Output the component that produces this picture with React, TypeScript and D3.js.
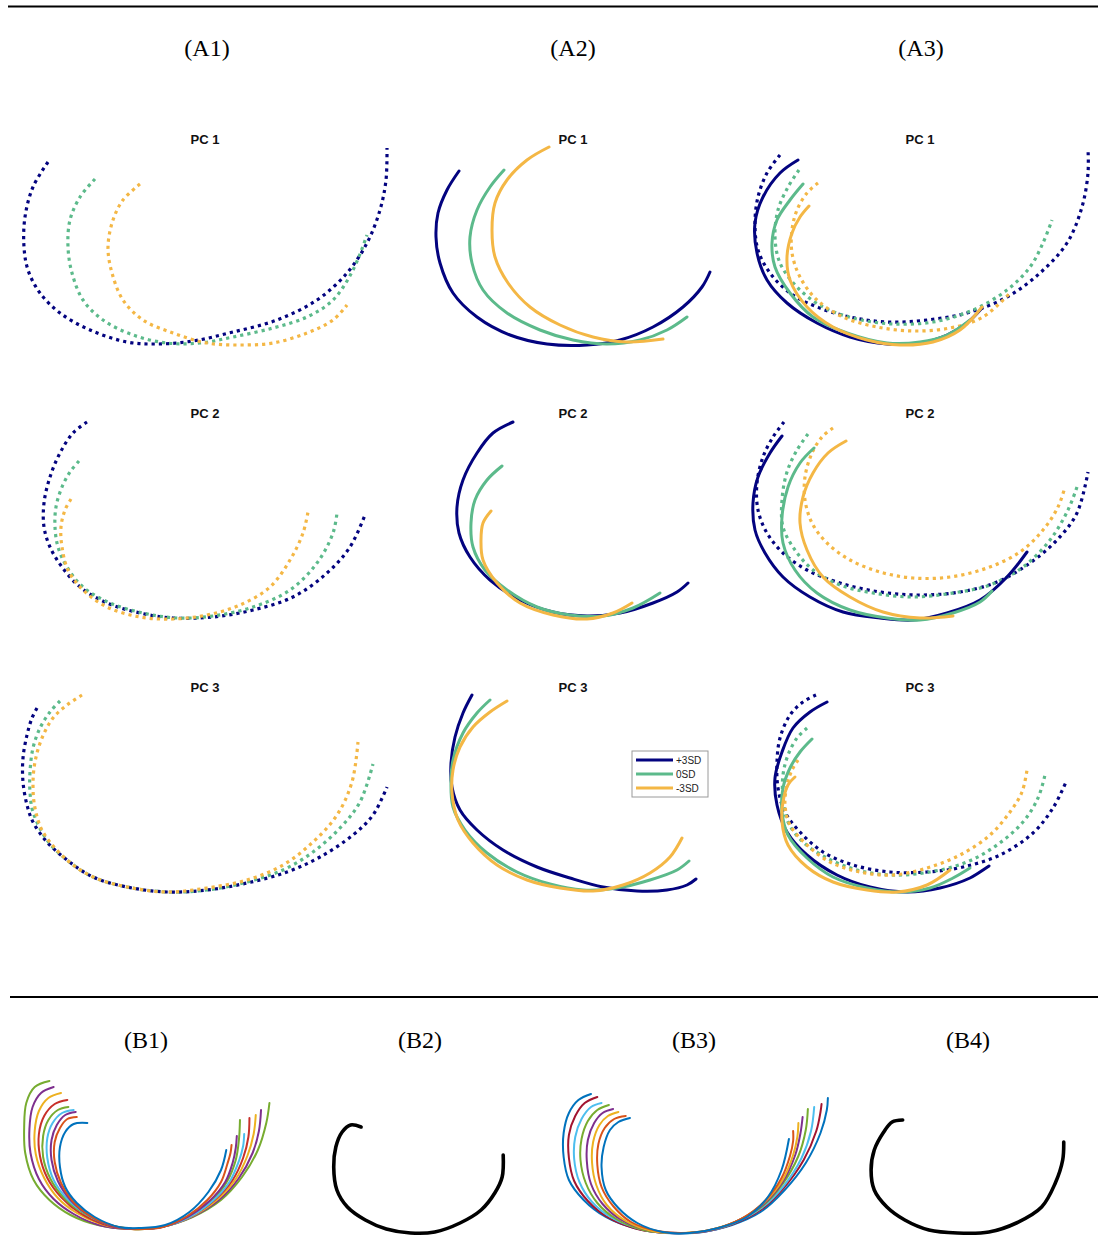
import React from "react";
import * as d3 from "d3";

type Pt = [number, number];

// ---------- labels ----------
const groupLabelsA = ["(A1)", "(A2)", "(A3)"];
const groupLabelsB = ["(B1)", "(B2)", "(B3)", "(B4)"];
const pcTitles = ["PC 1", "PC 2", "PC 3"];
const sdLabels = ["+3SD", "0SD", "-3SD"];

// ---------- (A1) dotted shapes ----------
const a1pc1Plus: Pt[] = [[3.1,19.8],[1.6,17.3],[0.8,14.3],[0.7,11.3],[1.1,9.0],[2.3,6.7],[4.3,4.7],[7.3,3.0],[11.0,1.8],[14.0,1.6],[17.6,1.9],[21.6,2.8],[26.0,4.0],[30.0,6.0],[33.0,8.7],[35.0,11.7],[36.3,15.0],[36.9,18.0],[37.0,21.2]];
const a1pc1Zero: Pt[] = [[7.8,18.1],[6.3,16.3],[5.3,14.0],[5.1,11.3],[5.5,8.7],[6.6,6.0],[8.6,4.0],[11.6,2.5],[15.0,1.7],[18.3,1.7],[21.6,2.3],[25.6,3.2],[29.0,4.3],[31.6,6.0],[33.6,9.0],[35.0,12.5]];
const a1pc1Minus: Pt[] = [[12.3,17.6],[10.6,16.0],[9.6,14.0],[9.1,11.3],[9.5,8.7],[10.6,6.0],[12.6,4.0],[15.6,2.7],[19.0,1.7],[22.3,1.5],[25.6,1.7],[29.0,2.7],[31.6,4.0],[33.0,5.5]];

const a1pc2Plus: Pt[] = [[7.0,21.2],[5.6,20.1],[4.3,18.1],[3.3,15.7],[2.7,13.1],[2.7,10.7],[3.3,8.7],[4.5,6.7],[6.3,4.7],[9.0,3.1],[12.3,2.1],[15.6,1.6],[19.6,1.7],[23.6,2.4],[27.6,3.7],[31.0,6.1],[33.3,8.7],[34.8,11.9]];
const a1pc2Zero: Pt[] = [[6.2,17.3],[5.3,16.2],[4.5,14.7],[3.9,12.7],[3.8,10.7],[4.1,8.7],[5.0,6.7],[6.6,4.7],[9.3,3.1],[12.6,2.1],[16.0,1.6],[19.6,1.8],[23.6,2.7],[27.3,4.4],[30.0,7.1],[31.6,10.1],[32.0,12.1]];
const a1pc2Minus: Pt[] = [[5.4,13.5],[4.8,12.4],[4.4,10.7],[4.5,8.7],[5.1,6.4],[6.6,4.4],[9.0,2.7],[12.3,1.7],[15.6,1.5],[19.0,1.9],[22.3,2.9],[25.3,4.7],[27.3,7.4],[28.6,10.1],[29.1,12.2]];

const a1pc3Plus: Pt[] = [[2.0,20.0],[1.5,19.0],[1.0,17.3],[0.6,15.0],[0.6,12.6],[1.0,10.3],[1.6,8.6],[3.0,6.6],[5.0,4.8],[7.6,3.1],[11.0,2.1],[15.0,1.6],[19.0,1.8],[23.0,2.5],[27.0,3.6],[30.3,5.1],[33.6,7.3],[35.6,9.3],[37.0,12.1]];
const a1pc3Zero: Pt[] = [[4.3,20.7],[3.3,19.6],[2.3,18.0],[1.6,16.0],[1.3,13.6],[1.3,11.6],[1.6,9.6],[3.0,6.8],[5.0,4.8],[7.6,3.1],[11.0,2.1],[15.0,1.6],[19.0,1.8],[23.0,2.6],[26.6,3.8],[29.6,5.6],[32.3,8.0],[34.3,10.6],[35.6,14.4]];
const a1pc3Minus: Pt[] = [[6.5,21.3],[5.0,20.3],[3.6,19.0],[2.5,17.0],[1.8,14.6],[1.6,12.3],[1.8,10.0],[2.6,7.6],[5.0,4.8],[7.6,3.1],[11.0,2.1],[15.0,1.6],[19.0,2.0],[23.0,2.8],[26.6,4.3],[29.6,6.6],[32.0,9.3],[33.5,12.6],[34.1,16.6]];

// ---------- (A2) solid shapes ----------
const a2pc1Plus: Pt[] = [[7.6,18.9],[6.4,17.0],[5.5,14.7],[5.3,12.3],[5.7,9.7],[7.0,6.7],[9.4,4.3],[12.7,2.5],[16.4,1.6],[20.4,1.5],[23.7,2.0],[27.0,3.3],[30.0,5.3],[31.9,7.3],[32.7,8.8]];
const a2pc1Zero: Pt[] = [[12.1,19.0],[10.7,17.3],[9.4,15.0],[8.7,12.3],[8.9,9.7],[10.0,7.0],[12.4,4.7],[15.7,3.0],[19.0,2.0],[22.4,1.6],[25.7,2.0],[28.4,3.0],[30.4,4.3]];
const a2pc1Minus: Pt[] = [[16.6,21.3],[14.4,20.0],[12.4,18.0],[11.2,15.7],[10.9,13.0],[11.2,10.3],[12.5,7.7],[14.7,5.3],[17.7,3.5],[21.0,2.3],[24.4,1.8],[28.0,2.1]];

const a2pc2Plus: Pt[] = [[13.0,21.2],[11.0,20.1],[9.4,18.1],[8.0,15.4],[7.4,12.7],[7.6,10.1],[8.7,7.7],[10.7,5.4],[13.7,3.4],[17.0,2.2],[20.4,1.8],[23.7,2.1],[27.0,3.1],[29.4,4.2],[30.5,5.1]];
const a2pc2Zero: Pt[] = [[11.9,16.8],[10.4,15.4],[9.2,13.4],[8.8,11.1],[9.0,8.7],[10.2,6.4],[12.4,4.4],[15.4,2.7],[18.7,1.9],[22.0,1.8],[25.0,2.6],[27.7,4.1]];
const a2pc2Minus: Pt[] = [[10.8,12.3],[10.0,11.1],[9.8,9.4],[10.0,7.4],[11.4,5.1],[13.7,3.1],[17.0,1.9],[20.4,1.5],[23.0,2.1],[24.9,3.1]];

const a2pc3Plus: Pt[] = [[8.9,21.3],[8.0,19.5],[7.2,17.1],[6.8,14.5],[6.9,12.1],[7.7,9.8],[9.4,7.8],[12.0,5.8],[15.4,4.1],[18.7,3.0],[22.0,2.1],[25.4,1.7],[28.4,1.8],[30.4,2.3],[31.3,2.9]];
const a2pc3Zero: Pt[] = [[10.7,20.8],[9.4,19.5],[8.0,17.5],[7.0,14.8],[6.8,12.8],[7.0,10.1],[8.2,7.8],[10.4,5.5],[13.4,3.6],[16.7,2.4],[20.0,1.8],[23.4,2.0],[26.7,2.8],[29.4,3.8],[30.6,4.7]];
const a2pc3Minus: Pt[] = [[12.4,20.7],[10.7,19.6],[9.0,18.1],[7.7,16.1],[7.0,13.8],[6.9,11.5],[7.5,8.8],[9.0,6.5],[11.4,4.3],[14.4,2.8],[17.7,2.0],[21.0,1.7],[24.0,2.3],[26.7,3.5],[28.7,5.1],[29.9,7.0]];

// ---------- (A3) dotted + solid shapes ----------
const a3pc1DotPlus: Pt[] = [[4.9,20.5],[3.6,18.7],[2.7,16.3],[2.4,13.7],[2.7,11.0],[3.9,8.7],[5.9,6.7],[8.6,5.3],[11.9,4.3],[15.6,3.8],[19.6,4.0],[23.6,4.7],[27.6,6.3],[30.9,8.7],[33.6,11.7],[35.1,15.3],[35.7,18.7],[35.7,21.1]];
const a3pc1DotZero: Pt[] = [[6.8,19.0],[5.7,17.3],[4.7,15.0],[4.4,12.3],[4.9,9.7],[6.6,7.3],[9.2,5.3],[12.6,4.1],[16.2,3.6],[20.2,3.8],[24.2,5.0],[27.6,7.0],[29.9,9.3],[31.2,11.7],[32.1,14.0]];
const a3pc1DotMinus: Pt[] = [[8.7,17.7],[7.6,16.7],[6.6,15.0],[6.1,13.0],[6.1,10.7],[6.9,8.3],[8.6,6.0],[11.2,4.3],[14.6,3.3],[18.2,2.9],[21.9,3.2],[25.2,4.3],[27.9,6.7]];
const a3pc1SolPlus: Pt[] = [[6.7,20.0],[4.9,18.7],[3.2,16.3],[2.4,13.7],[2.6,10.7],[3.6,8.0],[5.6,5.7],[8.6,3.7],[11.9,2.3],[15.6,1.6],[18.9,1.7],[21.6,2.5],[23.6,3.7],[25.1,5.2]];
const a3pc1SolZero: Pt[] = [[7.2,17.6],[5.9,16.0],[4.6,14.0],[4.1,11.7],[4.4,9.3],[5.9,6.7],[8.2,4.3],[11.6,2.7],[15.6,1.7],[18.9,1.8],[21.6,2.5],[23.9,4.0]];
const a3pc1SolMinus: Pt[] = [[7.8,15.4],[6.9,14.3],[6.1,12.7],[5.6,10.3],[5.9,8.0],[7.6,5.3],[10.2,3.3],[13.6,2.0],[16.9,1.5],[20.2,1.8],[22.9,3.0],[25.1,5.3]];

const a3pc2DotPlus: Pt[] = [[5.3,21.2],[4.2,19.7],[3.2,17.7],[2.6,15.1],[2.7,12.4],[3.6,10.1],[5.2,8.1],[7.6,6.4],[10.9,5.1],[14.9,4.2],[18.9,3.9],[22.9,4.2],[26.6,5.2],[29.9,7.1],[32.6,9.4],[34.6,12.1],[35.7,16.2]];
const a3pc2DotZero: Pt[] = [[7.7,20.0],[6.6,18.4],[5.6,16.2],[5.1,13.4],[5.2,10.7],[6.4,8.4],[8.2,6.4],[10.9,4.9],[14.2,4.1],[18.2,3.7],[22.2,4.1],[25.9,4.9],[29.2,6.7],[31.9,9.4],[33.7,12.4],[34.6,14.7]];
const a3pc2DotMinus: Pt[] = [[10.2,20.6],[9.1,19.7],[8.1,18.1],[7.4,15.7],[7.4,13.4],[8.1,11.1],[9.6,9.1],[11.9,7.4],[14.9,6.2],[18.2,5.6],[21.9,5.7],[25.6,6.6],[28.9,8.2],[31.2,10.4],[32.7,12.7],[33.4,14.7]];
const a3pc2SolPlus: Pt[] = [[5.1,19.8],[3.9,18.1],[2.7,15.7],[2.2,13.1],[2.4,10.4],[3.4,8.1],[5.2,5.7],[7.9,3.7],[11.2,2.2],[14.9,1.6],[18.2,1.4],[21.6,2.1],[24.9,3.4],[27.6,5.7],[29.6,8.2]];
const a3pc2SolZero: Pt[] = [[8.3,18.6],[6.9,17.1],[5.7,14.7],[5.1,11.7],[5.2,9.1],[6.4,6.4],[8.6,4.1],[11.9,2.4],[15.6,1.6],[18.9,1.4],[22.2,2.1],[24.9,3.2],[26.1,4.3]];
const a3pc2SolMinus: Pt[] = [[11.5,19.3],[9.7,18.1],[8.2,16.1],[7.2,13.7],[6.9,11.1],[7.6,8.4],[9.2,5.7],[11.9,3.7],[15.2,2.2],[18.9,1.6],[22.2,1.8]];

const a3pc3DotPlus: Pt[] = [[8.5,21.3],[7.2,20.6],[5.9,19.3],[4.9,17.0],[4.6,14.6],[4.7,12.0],[5.4,9.6],[6.9,7.6],[9.2,5.6],[12.2,4.3],[15.9,3.6],[19.6,3.6],[23.2,4.1],[26.9,5.3],[30.2,7.5],[32.2,10.0],[33.5,12.6]];
const a3pc3DotZero: Pt[] = [[7.6,18.0],[6.6,17.0],[5.7,15.3],[5.2,13.3],[5.2,11.0],[5.7,8.6],[7.2,6.6],[9.6,5.0],[12.6,3.8],[16.2,3.3],[19.9,3.6],[23.6,4.6],[26.6,6.3],[29.2,8.6],[30.7,11.0],[31.4,13.3]];
const a3pc3DotMinus: Pt[] = [[6.7,14.8],[6.1,13.8],[5.6,12.3],[5.4,10.3],[5.9,8.3],[7.6,6.3],[9.9,4.6],[12.9,3.6],[16.2,3.3],[19.6,4.0],[22.9,5.3],[25.9,7.3],[27.9,9.6],[29.1,11.6],[29.6,13.8]];
const a3pc3SolPlus: Pt[] = [[9.6,20.6],[7.9,19.6],[6.2,18.0],[5.1,15.6],[4.4,13.0],[4.6,10.3],[5.6,7.6],[7.6,5.3],[10.6,3.3],[13.9,2.1],[17.6,1.6],[20.9,2.0],[23.9,3.0],[25.8,4.2]];
const a3pc3SolZero: Pt[] = [[8.1,16.9],[6.9,15.6],[5.9,14.0],[5.2,12.0],[5.1,9.6],[5.7,7.3],[7.6,5.0],[10.2,3.1],[13.6,2.0],[16.9,1.6],[19.9,2.0],[22.2,3.0],[23.9,4.0]];
const a3pc3SolMinus: Pt[] = [[6.4,13.1],[5.7,12.3],[5.2,10.6],[5.1,8.6],[5.7,6.3],[7.6,4.1],[10.2,2.6],[13.6,1.8],[16.6,1.6],[19.6,2.3],[21.9,3.8]];

// ---------- (B1) individual shapes ----------
const b1Shapes: Pt[][] = [
  [[3.1,15.5],[1.7,14.9],[0.9,13.3],[0.7,10.9],[0.8,8.3],[1.6,5.6],[3.1,3.6],[5.1,2.1],[7.7,1.1],[10.7,0.7],[13.7,0.9],[16.7,1.9],[19.4,3.6],[21.4,5.9],[22.9,8.6],[23.7,11.3],[24.0,13.3]],
  [[3.5,14.9],[2.3,14.3],[1.5,12.9],[1.2,10.7],[1.3,8.3],[2.1,5.7],[3.5,3.7],[5.4,2.2],[7.8,1.1],[10.7,0.7],[13.7,0.9],[16.6,1.9],[19.2,3.6],[21.1,5.8],[22.4,8.3],[23.0,10.5],[23.2,12.6]],
  [[4.2,14.3],[3.0,13.8],[2.1,12.5],[1.7,10.5],[1.8,8.2],[2.6,5.8],[3.9,3.8],[5.7,2.3],[8.0,1.2],[10.8,0.7],[13.7,0.9],[16.5,1.9],[19.0,3.6],[20.8,5.7],[21.9,8.0],[22.5,10.2],[22.7,12.1]],
  [[4.8,13.6],[3.6,13.2],[2.6,12.0],[2.1,10.2],[2.2,8.0],[2.9,5.8],[4.2,3.9],[6.0,2.3],[8.2,1.2],[10.9,0.7],[13.7,0.9],[16.4,1.9],[18.8,3.6],[20.5,5.6],[21.5,7.8],[22.0,9.9],[22.1,11.8]],
  [[4.9,12.9],[3.9,12.6],[3.0,11.6],[2.5,10.0],[2.5,7.9],[3.2,5.7],[4.5,3.8],[6.3,2.3],[8.5,1.2],[11.0,0.7],[13.7,0.9],[16.3,1.9],[18.5,3.5],[20.0,5.5],[20.8,7.6],[21.1,9.6],[21.2,11.6]],
  [[5.4,12.6],[4.3,12.3],[3.4,11.3],[2.9,9.8],[2.9,7.8],[3.5,5.6],[4.8,3.7],[6.6,2.2],[8.8,1.1],[11.2,0.7],[13.8,0.9],[16.4,1.9],[18.6,3.5],[20.2,5.4],[21.1,7.5],[21.5,9.0],[21.6,10.2]],
  [[5.6,12.4],[4.6,12.1],[3.8,11.1],[3.3,9.6],[3.3,7.6],[3.9,5.5],[5.1,3.6],[6.8,2.1],[9.0,1.0],[11.3,0.7],[13.8,0.9],[16.2,1.9],[18.3,3.5],[19.8,5.4],[20.5,7.3],[20.8,8.8],[20.9,10.0]],
  [[5.7,11.9],[4.8,11.7],[4.1,10.8],[3.6,9.4],[3.6,7.4],[4.2,5.3],[5.3,3.5],[7.0,2.0],[9.2,1.0],[11.4,0.7],[13.9,0.9],[16.2,2.0],[18.1,3.6],[19.4,5.4],[20.0,7.2],[20.3,8.3],[20.4,9.1]],
  [[6.7,11.3],[5.4,11.2],[4.6,10.4],[4.1,8.9],[4.1,6.9],[4.6,4.9],[5.7,3.3],[7.4,1.9],[9.7,0.9],[11.7,0.8],[14.1,1.1],[16.4,2.4],[18.2,4.4],[19.4,6.6],[19.9,8.6]],
];

// ---------- (B2) mean shape ----------
const b2Shape: Pt[] = [[5.3,10.9],[4.3,11.1],[3.5,10.4],[2.9,8.9],[2.7,6.9],[3.0,4.6],[4.0,2.9],[5.7,1.6],[7.7,0.7],[10.0,0.3],[12.3,0.4],[14.7,1.3],[16.7,2.6],[18.0,4.3],[18.7,5.9],[18.8,8.1]];

// ---------- (B3) individual shapes ----------
const b3Shapes: Pt[][] = [
  [[2.5,14.2],[1.3,13.6],[0.4,12.3],[-0.1,10.3],[-0.1,7.9],[0.4,5.6],[1.8,3.6],[3.9,1.9],[6.6,0.8],[9.6,0.3],[12.9,0.4],[15.9,1.1],[18.6,2.4],[20.9,4.6],[22.9,7.3],[24.3,10.3],[24.9,12.6],[25.0,13.8]],
  [[3.1,13.9],[1.9,13.3],[1.0,12.0],[0.4,10.1],[0.4,7.8],[0.9,5.5],[2.2,3.5],[4.2,1.8],[6.9,0.7],[9.9,0.3],[13.0,0.4],[16.0,1.2],[18.6,2.6],[20.8,4.8],[22.7,7.6],[23.9,10.5],[24.3,12.4],[24.4,13.2]],
  [[3.5,13.3],[2.5,12.9],[1.6,11.7],[1.0,9.9],[0.9,7.7],[1.4,5.4],[2.6,3.4],[4.5,1.8],[7.2,0.7],[10.2,0.3],[13.2,0.4],[16.1,1.3],[18.7,2.8],[20.8,5.0],[22.5,7.8],[23.4,10.5],[23.7,12.9]],
  [[4.2,13.1],[3.1,12.6],[2.2,11.5],[1.6,9.7],[1.5,7.6],[2.0,5.3],[3.1,3.3],[4.9,1.7],[7.5,0.6],[10.5,0.3],[13.4,0.5],[16.2,1.4],[18.8,3.0],[20.7,5.2],[22.2,8.0],[22.9,10.6],[23.1,12.7]],
  [[4.6,12.7],[3.6,12.3],[2.8,11.3],[2.2,9.6],[2.1,7.5],[2.5,5.2],[3.6,3.2],[5.4,1.6],[7.9,0.6],[10.8,0.3],[13.6,0.5],[16.4,1.5],[18.9,3.2],[20.7,5.4],[21.9,8.1],[22.4,10.3],[22.6,11.9]],
  [[5.1,12.4],[4.1,12.0],[3.3,11.1],[2.7,9.4],[2.6,7.3],[3.0,5.1],[4.0,3.1],[5.8,1.5],[8.3,0.5],[11.1,0.3],[13.8,0.6],[16.6,1.6],[19.0,3.4],[20.7,5.6],[21.7,8.1],[22.1,9.9],[22.2,11.3]],
  [[5.8,12.0],[4.7,11.7],[3.8,10.8],[3.2,9.2],[3.1,7.1],[3.5,4.9],[4.6,3.0],[6.3,1.4],[8.8,0.5],[11.5,0.3],[14.2,0.7],[16.9,1.8],[19.1,3.6],[20.6,5.8],[21.4,8.0],[21.7,9.5],[21.7,10.5]],
  [[6.2,11.8],[5.1,11.4],[4.3,10.6],[3.7,8.9],[3.5,6.9],[3.9,4.6],[5.1,2.8],[6.9,1.3],[9.3,0.4],[11.9,0.3],[14.6,0.8],[17.3,1.9],[19.3,3.9],[20.6,6.6],[21.3,9.7]],
];

// ---------- (B4) mean shape ----------
const b4Shape: Pt[] = [[4.7,11.6],[3.7,11.4],[2.9,10.4],[2.0,8.6],[1.7,6.6],[2.0,4.6],[3.2,2.9],[4.9,1.6],[7.2,0.6],[9.9,0.3],[12.9,0.4],[15.5,1.3],[17.9,2.9],[19.2,5.3],[19.9,7.6],[20.0,9.4]];

// ---------- styling / layout ----------
const sdColors = ["#03037f", "#5cba8b", "#f4b745"];
const b1Colors = ["#77AC30", "#7E2F8E", "#EDB120", "#C8302A", "#77AC30", "#4DBEEE", "#7E2F8E", "#D95319", "#0072BD"];
const b3Colors = ["#0072BD", "#A2142F", "#4DBEEE", "#77AC30", "#7E2F8E", "#EDB120", "#D95319", "#0072BD"];

const W = 1098;
const H = 1236;
const colA = [207, 573, 921];
const titleXA = [205, 573, 920];
const rowBottomA = [360, 634, 908];
const colB = [146, 420, 694, 968];
const leftB = [16.8, 305.3, 564.7, 853.2];
const widthB = 273.7;
const bottomB = 1236;

type PanelA = { dotted?: Pt[][]; solid?: Pt[][] };

const panelsA: PanelA[][] = [
  [
    { dotted: [a1pc1Plus, a1pc1Zero, a1pc1Minus] },
    { solid: [a2pc1Plus, a2pc1Zero, a2pc1Minus] },
    { dotted: [a3pc1DotPlus, a3pc1DotZero, a3pc1DotMinus], solid: [a3pc1SolPlus, a3pc1SolZero, a3pc1SolMinus] },
  ],
  [
    { dotted: [a1pc2Plus, a1pc2Zero, a1pc2Minus] },
    { solid: [a2pc2Plus, a2pc2Zero, a2pc2Minus] },
    { dotted: [a3pc2DotPlus, a3pc2DotZero, a3pc2DotMinus], solid: [a3pc2SolPlus, a3pc2SolZero, a3pc2SolMinus] },
  ],
  [
    { dotted: [a1pc3Plus, a1pc3Zero, a1pc3Minus] },
    { solid: [a2pc3Plus, a2pc3Zero, a2pc3Minus] },
    { dotted: [a3pc3DotPlus, a3pc3DotZero, a3pc3DotMinus], solid: [a3pc3SolPlus, a3pc3SolZero, a3pc3SolMinus] },
  ],
];

const serif = "'Liberation Serif', 'Times New Roman', serif";
const sans = "'Liberation Sans', Arial, sans-serif";

function makeLine(x: d3.ScaleLinear<number, number>, y: d3.ScaleLinear<number, number>) {
  return d3
    .line<Pt>()
    .x((d) => x(d[0]))
    .y((d) => y(d[1]))
    .curve(d3.curveCatmullRom.alpha(0.5));
}

export default function App() {
  return (
    <svg
      width={W}
      height={H}
      style={{ position: "absolute", left: 0, top: 0, background: "#fff" }}
    >
      {/* separators */}
      <line x1={8} x2={W} y1={6.5} y2={6.5} stroke="#000" strokeWidth={2} />
      <line x1={10} x2={W} y1={997} y2={997} stroke="#000" strokeWidth={2} />

      {groupLabelsA.map((t, i) => (
        <text key={t} x={colA[i]} y={56} textAnchor="middle" fontFamily={serif} fontSize={24}>
          {t}
        </text>
      ))}
      {groupLabelsB.map((t, i) => (
        <text key={t} x={colB[i]} y={1048} textAnchor="middle" fontFamily={serif} fontSize={24}>
          {t}
        </text>
      ))}

      {panelsA.map((row, r) =>
        row.map((p, c) => {
          const x = d3.scaleLinear().domain([0, 38]).range([colA[c] - 190, colA[c] + 190]);
          const y = d3.scaleLinear().domain([0, 24]).range([rowBottomA[r], rowBottomA[r] - 240]);
          const line = makeLine(x, y);
          return (
            <g key={`${r}-${c}`}>
              <text
                x={titleXA[c]}
                y={rowBottomA[r] - 216}
                textAnchor="middle"
                fontFamily={sans}
                fontWeight="bold"
                fontSize={13}
                fill="#111"
              >
                {pcTitles[r]}
              </text>
              {(p.dotted || []).map((pts, k) => (
                <path
                  key={`d${k}`}
                  d={line(pts) || ""}
                  fill="none"
                  stroke={sdColors[k]}
                  strokeWidth={3.2}
                  strokeDasharray="3.2 4"
                />
              ))}
              {(p.solid || []).map((pts, k) => (
                <path
                  key={`s${k}`}
                  d={line(pts) || ""}
                  fill="none"
                  stroke={sdColors[k]}
                  strokeWidth={3}
                  strokeLinecap="round"
                />
              ))}
            </g>
          );
        })
      )}

      {/* legend in A2 / PC 3 */}
      <g transform="translate(632,751)">
        <rect x={0} y={0} width={76} height={46} fill="#fff" stroke="#9a9a9a" strokeWidth={1} />
        {sdLabels.map((s, i) => (
          <g key={s} transform={`translate(0,${9 + i * 14})`}>
            <line x1={4} x2={41} y1={0} y2={0} stroke={sdColors[i]} strokeWidth={3} />
            <text x={44} y={3.6} fontFamily={sans} fontSize={10} fill="#222">
              {s}
            </text>
          </g>
        ))}
      </g>

      {/* B panels */}
      {[b1Shapes, [b2Shape], b3Shapes, [b4Shape]].map((shapes, c) => {
        const x = d3.scaleLinear().domain([0, 26]).range([leftB[c], leftB[c] + widthB]);
        const y = d3.scaleLinear().domain([0, 16]).range([bottomB, bottomB - 160]);
        const line = makeLine(x, y);
        const colors = c === 0 ? b1Colors : c === 2 ? b3Colors : null;
        return (
          <g key={`b${c}`}>
            {shapes.map((pts, k) => (
              <path
                key={k}
                d={line(pts) || ""}
                fill="none"
                stroke={colors ? colors[k] : "#000"}
                strokeWidth={colors ? 2 : 3.6}
                strokeLinecap="round"
              />
            ))}
          </g>
        );
      })}
    </svg>
  );
}
